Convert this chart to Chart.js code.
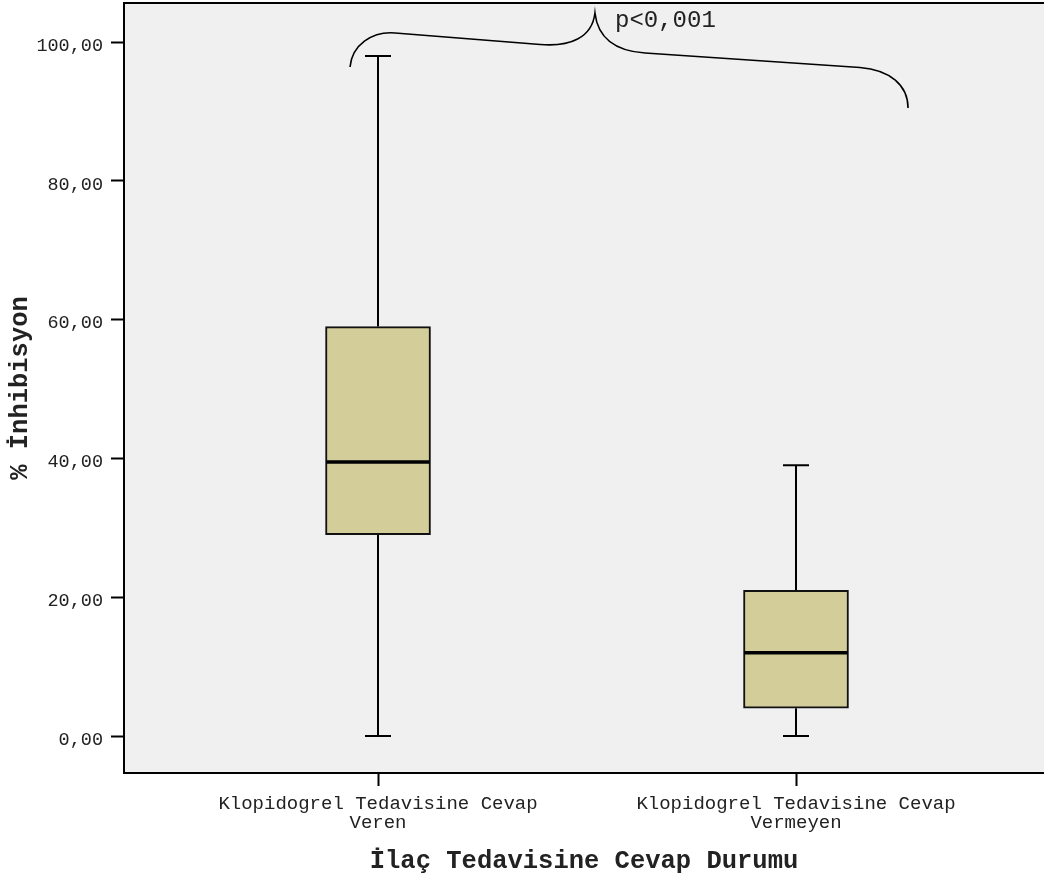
<!DOCTYPE html>
<html>
<head>
<meta charset="utf-8">
<title>% İnhibisyon</title>
<script src="https://cdn.jsdelivr.net/npm/chart.js@4"></script>
<style>
  html, body { margin: 0; padding: 0; background: #ffffff; }
  #wrap { width: 1044px; height: 880px; position: relative; }
</style>
</head>
<body>
<div id="wrap"><canvas id="chart"></canvas></div>
<script>
// Groups shown on the x axis (multi-line tick labels)
const categories = [
  ['Klopidogrel Tedavisine Cevap', 'Veren'],
  ['Klopidogrel Tedavisine Cevap', 'Vermeyen']
];
const groupPositions = [1, 2];

// Five-number summaries of % inhibition per group
const whiskerLow  = [0, 0];
const q1          = [29, 4];
const median      = [39.5, 12];
const q3          = [59, 21];
const whiskerHigh = [98, 39];

// Y axis tick values
const yTicks = [0, 20, 40, 60, 80, 100];

// Significance note
const pText = 'p<0,001';

// Styling
const FONT = '"Liberation Mono", "DejaVu Sans Mono", monospace';
const TEXT_COLOR = '#222222';
const BOX_FILL = '#d3ce99';
const PLOT_BG = '#f0f0f0';
const BOX_WIDTH = 105;
const CAP_WIDTH = 26;

// Brace over both groups, in axis units (x: group position, y: % value)
const bracePath = [
  ['M', 0.933, 96.40],
  ['C', 0.938, 99.57, 0.986, 101.59, 1.041, 101.30],
  ['L', 1.388, 99.64],
  ['C', 1.459, 99.28, 1.512, 100.58, 1.519, 104.18],
  ['C', 1.526, 100.58, 1.567, 98.70, 1.639, 98.41],
  ['L', 2.153, 96.33],
  ['C', 2.225, 95.97, 2.268, 93.80, 2.268, 90.49]
];
const pAnchor = { x: 1.567, y: 102.16 };

const boxData = groupPositions.map((x, i) => ({ x: x, y: [q1[i], q3[i]] }));

const plotDecor = {
  id: 'plotDecor',
  beforeDraw(chart) {
    const { ctx, chartArea: a } = chart;
    ctx.save();
    ctx.fillStyle = PLOT_BG;
    ctx.fillRect(a.left, a.top, a.right - a.left, a.bottom - a.top);
    ctx.restore();
  },
  beforeDatasetsDraw(chart) {
    // whiskers and caps behind the boxes
    const { ctx, scales: { x, y } } = chart;
    ctx.save();
    ctx.strokeStyle = '#000';
    ctx.lineWidth = 2;
    groupPositions.forEach((g, i) => {
      const px = Math.round(x.getPixelForValue(g));
      const yLo = y.getPixelForValue(whiskerLow[i]);
      const yHi = y.getPixelForValue(whiskerHigh[i]);
      ctx.beginPath();
      ctx.moveTo(px, yHi); ctx.lineTo(px, y.getPixelForValue(q3[i]));
      ctx.moveTo(px, y.getPixelForValue(q1[i])); ctx.lineTo(px, yLo);
      ctx.moveTo(px - CAP_WIDTH / 2, yHi); ctx.lineTo(px + CAP_WIDTH / 2, yHi);
      ctx.moveTo(px - CAP_WIDTH / 2, yLo); ctx.lineTo(px + CAP_WIDTH / 2, yLo);
      ctx.stroke();
    });
    ctx.restore();
  },
  afterDatasetsDraw(chart) {
    const { ctx, chartArea: a, scales: { x, y } } = chart;
    ctx.save();
    // medians
    ctx.strokeStyle = '#000';
    ctx.lineWidth = 3.5;
    groupPositions.forEach((g, i) => {
      const px = x.getPixelForValue(g);
      const py = y.getPixelForValue(median[i]);
      ctx.beginPath();
      ctx.moveTo(px - BOX_WIDTH / 2 + 1, py);
      ctx.lineTo(px + BOX_WIDTH / 2 - 1, py);
      ctx.stroke();
    });
    // top frame line
    ctx.lineWidth = 2;
    ctx.beginPath();
    ctx.moveTo(a.left, a.top);
    ctx.lineTo(a.right, a.top);
    ctx.stroke();
    // brace
    ctx.lineWidth = 1.6;
    ctx.beginPath();
    bracePath.forEach(seg => {
      const p = [];
      for (let k = 1; k < seg.length; k += 2) {
        p.push(x.getPixelForValue(seg[k]), y.getPixelForValue(seg[k + 1]));
      }
      if (seg[0] === 'M') ctx.moveTo(p[0], p[1]);
      else if (seg[0] === 'L') ctx.lineTo(p[0], p[1]);
      else ctx.bezierCurveTo(p[0], p[1], p[2], p[3], p[4], p[5]);
    });
    ctx.stroke();
    // p value
    ctx.fillStyle = TEXT_COLOR;
    ctx.font = '24px ' + FONT;
    ctx.textAlign = 'left';
    ctx.textBaseline = 'alphabetic';
    ctx.fillText(pText, x.getPixelForValue(pAnchor.x), y.getPixelForValue(pAnchor.y));
    ctx.restore();
  }
};

new Chart(document.getElementById('chart'), {
  type: 'bar',
  data: {
    datasets: [{
      data: boxData,
      backgroundColor: BOX_FILL,
      borderColor: '#111111',
      borderWidth: 2,
      borderSkipped: false,
      barThickness: BOX_WIDTH
    }]
  },
  options: {
    responsive: true,
    maintainAspectRatio: false,
    devicePixelRatio: 1,
    animation: false,
    layout: { padding: { top: 3, left: 0, right: 0, bottom: 0 } },
    plugins: { legend: { display: false }, tooltip: { enabled: false } },
    scales: {
      x: {
        type: 'linear',
        offset: false,
        bounds: 'data',
        min: 0.3923,
        max: 2.5933,
        afterBuildTicks: s => { s.ticks = groupPositions.map(v => ({ value: v })); },
        afterFit: s => { s.height = 107; s.paddingLeft = 0; s.paddingRight = 0; },
        ticks: {
          autoSkip: false,
          maxRotation: 0,
          padding: 8,
          color: TEXT_COLOR,
          font: { family: FONT, size: 19, lineHeight: 1.02 },
          callback: v => categories[groupPositions.indexOf(v)] || ''
        },
        grid: {
          display: true,
          offset: false,
          drawOnChartArea: false,
          drawTicks: true,
          tickLength: 13,
          tickColor: '#000',
          tickWidth: 2
        },
        border: { display: true, color: '#000', width: 2 },
        title: {
          display: true,
          text: 'İlaç Tedavisine Cevap Durumu',
          color: TEXT_COLOR,
          font: { family: FONT, size: 25.5, weight: 'bold', lineHeight: 1.2 },
          padding: { top: 0, bottom: 3 }
        }
      },
      y: {
        type: 'linear',
        min: -5.33,
        max: 105.62,
        afterBuildTicks: s => { s.ticks = yTicks.map(v => ({ value: v })); },
        afterFit: s => { s.width = 124; s.paddingTop = 0; s.paddingBottom = 0; },
        ticks: {
          padding: 8,
          labelOffset: 4,
          color: TEXT_COLOR,
          font: { family: FONT, size: 18.5 },
          callback: v => v.toFixed(2).replace('.', ',')
        },
        grid: {
          display: true,
          drawOnChartArea: false,
          drawTicks: true,
          tickLength: 13,
          tickColor: '#000',
          tickWidth: 2
        },
        border: { display: true, color: '#000', width: 2 },
        title: {
          display: true,
          text: '% İnhibisyon',
          color: TEXT_COLOR,
          font: { family: FONT, size: 25.5, weight: 'bold', lineHeight: 1.2 },
          padding: { top: 5, bottom: 0 }
        }
      }
    }
  },
  plugins: [plotDecor]
});
</script>
</body>
</html>
